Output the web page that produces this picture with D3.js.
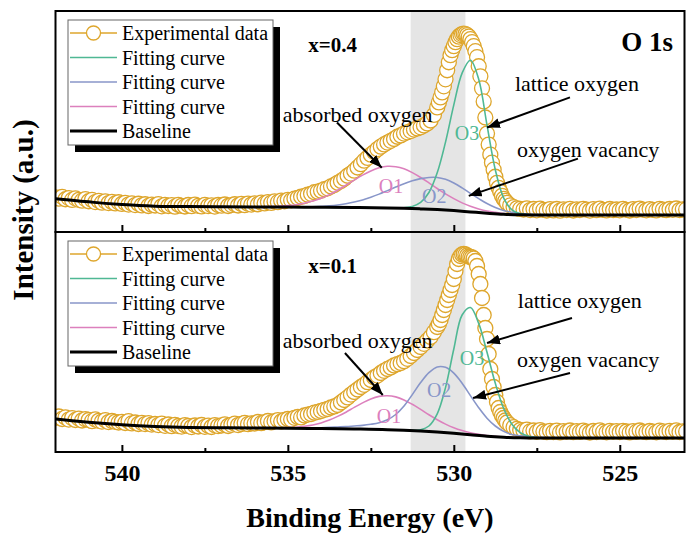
<!DOCTYPE html>
<html>
<head>
<meta charset="utf-8">
<title>O 1s XPS</title>
<script src="https://d3js.org/d3.v7.min.js"></script>
<style>
  body { margin: 0; background: #fff; }
  text { font-family: "Liberation Serif", "Times New Roman", serif; }
</style>
</head>
<body>
<script>
    var width = 686, height = 536;

    // ---- data (binding energy in eV, intensity in a.u.) ----
    // experimental points: 0.1 eV steps, 0.05 eV steps across the main peak
    function seg(from, to, step) {
        return d3.range(0, Math.round((from - to) / step) + 1).map(function(i) {
            return +(from - i * step).toFixed(2);
        });
    }
    var expEnergy = [].concat(seg(542, 530.5, 0.1), seg(530.45, 528.45, 0.05), seg(528.4, 523, 0.1));

    var exp04 = [
        34.5, 33.2, 35.0, 32.6, 33.8, 31.9, 33.5, 32.0, 31.2, 32.8,
        30.6, 31.9, 29.8, 31.0, 29.2, 30.5, 28.8, 29.9, 28.4, 29.6,
        27.9, 29.0, 27.3, 28.4, 26.8, 28.1, 26.5, 27.6, 25.9, 27.2,
        26.4, 27.8, 25.6, 27.0, 25.9, 26.8, 25.2, 27.1, 26.0, 25.4,
        26.9, 25.7, 27.3, 26.1, 25.5, 27.0, 25.8, 26.6, 25.3, 26.9,
        26.2, 27.4, 25.9, 26.8, 27.6, 26.4, 27.9, 26.7, 28.2, 27.3,
        28.5, 27.6, 29.2, 28.4, 29.8, 29.0, 30.4, 29.7, 31.2, 30.6,
        32.0, 31.5, 33.2, 34.0, 35.1, 35.8, 37.2, 38.0, 39.6, 40.2,
        41.2, 42.6, 43.5, 45.4, 46.8, 49.0, 50.8, 53.1, 56.0, 58.2,
        61.0, 64.2, 67.5, 71.0, 73.8, 77.0, 79.6, 82.5, 85.0, 87.2,
        89.0, 90.8, 92.6, 94.8, 96.2, 98.0, 99.2, 100.5, 102.0, 103.1,
        104.2, 106.0, 108.1, 111.0, 116.5, 124.0,
        129, 134, 139, 145, 152, 161, 169, 176, 181, 185, 189, 192,
        194.5, 196, 197, 197.5, 197, 196, 194.5, 192, 189, 185, 180,
        174, 165, 155, 143, 130, 114, 98, 87, 77, 69, 62, 55, 49, 44, 40, 36, 33, 31,
        29.0, 26.5, 24.8, 23.6,
        23.0, 22.4, 23.5, 21.8, 22.9, 21.6, 23.2, 22.0, 21.4, 22.8,
        21.5, 22.9, 21.2, 22.6, 21.8, 23.0, 21.4, 22.5, 21.9, 23.1,
        22.2, 21.3, 22.8, 21.7, 23.2, 22.0, 21.5, 22.9, 21.8, 22.4,
        21.6, 23.0, 22.1, 21.4, 22.7, 21.9, 23.3, 22.2, 21.6, 22.8,
        22.0, 21.5, 23.1, 22.3, 21.7, 22.9, 22.1, 23.4, 21.8, 22.6,
        22.5
    ];

    var exp01 = [
        34.2, 35.5, 33.0, 34.6, 32.4, 33.9, 32.0, 33.4, 31.5, 32.8,
        32.0, 30.8, 32.6, 31.2, 30.4, 31.8, 29.9, 31.0, 30.2, 29.5,
        30.2, 29.0, 30.8, 28.6, 29.5, 28.0, 29.2, 27.9, 28.8, 27.4,
        28.0, 26.9, 28.4, 26.2, 27.5, 25.8, 27.2, 26.0, 25.4, 26.8,
        26.0, 24.9, 26.5, 25.5, 27.0, 25.2, 26.3, 25.0, 26.8, 25.9,
        26.5, 27.6, 26.0, 27.2, 28.3, 26.9, 28.0, 29.1, 27.8, 28.7,
        28.5, 30.0, 28.8, 29.9, 31.0, 29.6, 30.8, 31.9, 30.5, 32.2,
        33.0, 32.4, 34.2, 35.0, 34.6, 36.5, 37.4, 38.0, 39.3, 40.1,
        41.0, 42.2, 43.0, 44.5, 45.6, 47.0, 49.5, 52.0, 54.6, 57.4,
        60.0, 62.5, 65.0, 67.2, 69.8, 72.0, 74.5, 76.4, 79.0, 81.2,
        83.0, 84.6, 86.5, 87.8, 89.0, 90.8, 93.2, 96.0, 99.0, 102.0,
        105.0, 108.2, 111.5, 115.0, 119.8, 125.0,
        128, 132, 137, 142, 147, 152, 157, 162, 167, 173, 181, 188,
        193, 196, 197.5, 198, 197.5, 196.5, 195.5, 195, 194.5, 193.5, 191,
        186, 178, 168, 154, 137, 124, 113, 98, 83, 73, 65, 57, 50, 44, 40, 36.5, 34, 31.5,
        29.5, 26.8, 24.8, 23.2,
        22.0, 21.2, 22.4, 20.6, 21.5, 20.2, 21.8, 20.5, 19.8, 21.2,
        20.0, 21.4, 19.6, 20.9, 20.2, 21.5, 19.8, 20.8, 20.1, 21.3,
        20.4, 19.5, 21.0, 20.0, 21.6, 20.3, 19.7, 21.1, 20.2, 20.8,
        19.9, 21.2, 20.5, 19.6, 20.9, 20.1, 21.5, 20.4, 19.8, 21.0,
        20.3, 19.7, 21.3, 20.6, 19.9, 21.1, 20.2, 21.6, 20.0, 20.7,
        20.5
    ];

    // fitted components (drawn on top of the baseline), 0.25 eV grid
    var fitEnergy = seg(537, 526, 0.25);

    var fitO1_04 = [25.2, 25.2, 25.1, 25.1, 25.1, 25.2, 25.4, 25.7, 26.3, 27.2, 28.7, 30.8, 33.6, 37.2, 41.6,
        46.5, 51.7, 56.6, 60.8, 63.9, 65.4, 65.0, 62.9, 59.1, 54.3, 48.9, 43.3, 37.9, 33.2, 29.0,
        25.6, 23.0, 20.9, 19.5, 18.4, 17.8, 17.3, 17.2, 17.1, 17.0, 17.0, 17.0, 17.0, 17.0, 17.0];
    var fitO2_04 = [25.2, 25.2, 25.1, 25.1, 25.0, 25.0, 24.9, 24.9, 24.9, 24.9, 25.0, 25.2, 25.6, 26.1, 26.9,
        28.2, 29.8, 31.9, 34.6, 37.7, 41.2, 44.7, 48.1, 51.0, 53.1, 54.3, 54.3, 52.4, 48.8, 43.9,
        38.4, 33.2, 28.3, 24.5, 21.5, 19.7, 18.3, 17.7, 17.3, 17.1, 17.1, 17.0, 17.0, 17.0, 17.0];
    var fitO3_04 = [25.2, 25.2, 25.1, 25.1, 25.0, 25.0, 24.9, 24.9, 24.8, 24.8, 24.7, 24.7, 24.6, 24.6, 24.5,
        24.5, 24.4, 24.3, 24.2, 24.1, 24.0, 23.9, 24.2, 25.4, 29.4, 39.3, 58.9, 89.5, 126.5, 158.2,
        171.0, 152.0, 106.4, 61.9, 34.0, 22.0, 18.1, 17.2, 17.0, 17.0, 17.0, 17.0, 17.0, 17.0, 17.0];

    var fitO1_01 = [24.2, 24.2, 24.1, 24.1, 24.0, 24.0, 24.0, 24.1, 24.4, 24.8, 25.7, 27.0, 29.0, 31.9, 35.6,
        39.8, 44.6, 49.1, 53.1, 55.6, 56.3, 55.1, 52.1, 47.7, 42.6, 37.2, 32.3, 27.9, 24.3, 21.5,
        19.3, 17.7, 16.4, 15.6, 14.9, 14.6, 14.2, 14.1, 14.0, 14.0, 14.0, 14.0, 14.0, 14.0, 14.0];
    var fitO2_01 = [24.2, 24.2, 24.1, 24.1, 24.0, 24.0, 24.0, 24.0, 24.0, 24.0, 24.1, 24.2, 24.3, 24.6, 25.0,
        25.4, 26.0, 26.6, 27.7, 29.3, 32.3, 37.5, 46.0, 57.4, 69.4, 79.4, 85.1, 84.7, 78.8, 68.7,
        56.4, 44.3, 33.8, 26.0, 20.7, 17.4, 16.2, 15.4, 14.8, 14.5, 14.3, 14.2, 14.1, 14.0, 14.0];
    var fitO3_01 = [24.2, 24.2, 24.1, 24.1, 24.0, 24.0, 23.9, 23.9, 23.8, 23.7, 23.7, 23.6, 23.5, 23.4, 23.3,
        23.1, 23.0, 22.8, 22.7, 22.5, 22.3, 22.0, 21.7, 21.6, 22.3, 26.0, 38.1, 64.4, 103.0, 137.0,
        144.5, 128.6, 99.7, 68.7, 43.7, 27.8, 19.4, 15.8, 14.5, 14.1, 14.0, 14.0, 14.0, 14.0, 14.0];

    var baselineEnergy = [542, 541.5, 541, 540.5, 540, 539.5, 539, 538, 537, 536, 535, 534, 533,
        532, 531.5, 531, 530.5, 530, 529.5, 529, 528.5, 528, 527.5, 527, 525, 523];
    var baseline04 = [33, 31.5, 30, 28.5, 27.3, 26.3, 25.7, 25.3, 25.2, 25, 24.8, 24.6, 24.4,
        24, 23.6, 23, 22.3, 21.3, 20, 18.7, 17.6, 17.1, 17, 17, 17, 17];
    var baseline01 = [33, 31.3, 29.8, 28.5, 27.3, 26.3, 25.5, 24.5, 24.2, 24, 23.8, 23.5, 23,
        22.3, 21.7, 21, 20, 18.8, 17.3, 15.8, 14.8, 14.2, 14, 14, 14, 14];

    var majorTicks = [540, 535, 530, 525];
    var minorTicks = [537.5, 532.5, 527.5];
    var band = [531.3, 529.65];

    var legendLabels = ["Experimental data", "Fitting curve", "Fitting curve", "Fitting curve", "Baseline"];

    // annotations in data units: [text, energy, intensity]
    var notes04 = [["lattice oxygen", 528.16, 140], ["oxygen vacancy", 528.1, 75], ["absorbed oxygen", 535.15, 110]];
    var arrows04 = [[526.5, 134, 529.0, 104], [526.26, 73, 529.55, 36], [533.52, 109, 532.17, 64]];
    var peaks04 = [["O1", 532.26, 39], ["O2", 530.96, 29], ["O3", 529.97, 92]];
    var notes01 = [["lattice oxygen", 528.07, 144], ["oxygen vacancy", 528.1, 85], ["absorbed oxygen", 535.15, 104]];
    var arrows01 = [[526.44, 134, 529.0, 109], [526.5, 79, 529.42, 54], [533.28, 99, 532.14, 57]];
    var peaks01 = [["O1", 532.32, 29], ["O2", 530.81, 55], ["O3", 529.82, 87]];

    // ---- drawing ----
    var gold = "#dea62c", teal = "#4fb894", blue = "#8896c9", pink = "#dc80bd";
    var fitColors = [pink, blue, teal];

    var svg = d3.select("body").append("svg")
        .attr("width", width)
        .attr("height", height);

    var defs = svg.append("defs");
    defs.append("marker")
        .attr("id", "arrow")
        .attr("viewBox", "0 0 13 10")
        .attr("refX", 13).attr("refY", 5)
        .attr("markerWidth", 13).attr("markerHeight", 10)
        .attr("markerUnits", "userSpaceOnUse")
        .attr("orient", "auto")
        .append("path").attr("d", "M0,0 L13,5 L0,10 Z").attr("fill", "#000");

    var left = 55.5, right = 684.5;
    var x = d3.scaleLinear().domain([542, 523.05]).range([left, right]);

    var panels = [
        { top: 11, bottom: 232, exp: exp04, base: baseline04, fits: [fitO1_04, fitO2_04, fitO3_04],
          name: "x=0.4", notes: notes04, arrows: arrows04, peaks: peaks04, labels: false },
        { top: 232, bottom: 452, exp: exp01, base: baseline01, fits: [fitO1_01, fitO2_01, fitO3_01],
          name: "x=0.1", notes: notes01, arrows: arrows01, peaks: peaks01, labels: true }
    ];

    // grey band behind both panels
    svg.append("rect")
        .attr("x", x(band[0])).attr("y", 11)
        .attr("width", x(band[1]) - x(band[0])).attr("height", 452 - 11)
        .attr("fill", "#e5e5e5");

    panels.forEach(function(p, k) {
        var y = d3.scaleLinear().domain([0, 220]).range([p.bottom, p.top]);

        defs.append("clipPath").attr("id", "clip" + k)
            .append("rect").attr("x", left).attr("y", p.top)
            .attr("width", right - left).attr("height", p.bottom - p.top);

        var g = svg.append("g").attr("clip-path", "url(#clip" + k + ")");

        g.selectAll("circle")
            .data(expEnergy.map(function(e, i) { return [e, p.exp[i]]; }))
            .enter().append("circle")
            .attr("cx", function(d) { return x(d[0]); })
            .attr("cy", function(d) { return y(d[1]); })
            .attr("r", 7.5)
            .attr("fill", "#fff")
            .attr("stroke", gold)
            .attr("stroke-width", 1.3);

        var fitLine = d3.line()
            .x(function(d) { return x(d[0]); })
            .y(function(d) { return y(d[1]); })
            .curve(d3.curveCatmullRom.alpha(0.5));

        p.fits.forEach(function(vals, j) {
            g.append("path")
                .attr("d", fitLine(fitEnergy.map(function(e, i) { return [e, vals[i]]; })))
                .attr("fill", "none")
                .attr("stroke", fitColors[j])
                .attr("stroke-width", 1.6);
        });

        var baseLine = d3.line()
            .x(function(d) { return x(d[0]); })
            .y(function(d) { return y(d[1]); })
            .curve(d3.curveMonotoneX);
        g.append("path")
            .attr("d", baseLine(baselineEnergy.map(function(e, i) { return [e, p.base[i]]; })))
            .attr("fill", "none")
            .attr("stroke", "#000")
            .attr("stroke-width", 3);

        // peak labels and annotations
        p.peaks.forEach(function(d, j) {
            svg.append("text")
                .attr("x", x(d[1])).attr("y", y(d[2]))
                .attr("font-size", 20)
                .attr("fill", fitColors[j])
                .text(d[0]);
        });
        p.notes.forEach(function(d) {
            svg.append("text")
                .attr("x", x(d[1])).attr("y", y(d[2]))
                .attr("font-size", 22)
                .attr("fill", "#000")
                .text(d[0]);
        });
        p.arrows.forEach(function(a) {
            svg.append("line")
                .attr("x1", x(a[0])).attr("y1", y(a[1]))
                .attr("x2", x(a[2])).attr("y2", y(a[3]))
                .attr("stroke", "#000")
                .attr("stroke-width", 2)
                .attr("marker-end", "url(#arrow)");
        });

        svg.append("text")
            .attr("x", 357).attr("y", p.top + 41)
            .attr("text-anchor", "end")
            .attr("font-size", 21)
            .attr("font-weight", "bold")
            .text(p.name);

        if (k === 0) {
            svg.append("text")
                .attr("x", 673).attr("y", p.top + 40)
                .attr("text-anchor", "end")
                .attr("font-size", 27)
                .attr("font-weight", "bold")
                .text("O 1s");
        }

        // ticks on the bottom edge of each panel, pointing inwards
        var axisMajor = d3.axisBottom(x).tickValues(majorTicks)
            .tickSizeInner(-7).tickSizeOuter(0).tickPadding(12)
            .tickFormat(p.labels ? d3.format("d") : "");
        var ga = svg.append("g").attr("transform", "translate(0," + p.bottom + ")").call(axisMajor);
        ga.select(".domain").remove();
        ga.selectAll("line").attr("stroke-width", 2);
        ga.selectAll("text")
            .attr("font-family", "Liberation Serif, Times New Roman, serif")
            .attr("font-size", 24)
            .attr("font-weight", "bold")
            .attr("fill", "#000");

        var axisMinor = d3.axisBottom(x).tickValues(minorTicks)
            .tickSizeInner(-4).tickSizeOuter(0).tickFormat("");
        var gm = svg.append("g").attr("transform", "translate(0," + p.bottom + ")").call(axisMinor);
        gm.select(".domain").remove();
        gm.selectAll("line").attr("stroke-width", 2);

        // frame
        svg.append("rect")
            .attr("x", left).attr("y", p.top)
            .attr("width", right - left).attr("height", p.bottom - p.top)
            .attr("fill", "none")
            .attr("stroke", "#000")
            .attr("stroke-width", 2);

        // legend with drop shadow
        var lg = svg.append("g").attr("transform", "translate(0," + p.top + ")");
        lg.append("rect").attr("x", 75).attr("y", 16).attr("width", 205).attr("height", 125).attr("fill", "#000");
        lg.append("rect").attr("x", 68).attr("y", 9).attr("width", 205).attr("height", 125)
            .attr("fill", "#fff").attr("stroke", "#666").attr("stroke-width", 1);

        var rowY = [22, 46.5, 71, 95.5, 120];
        var rowColor = [gold, teal, blue, pink, "#000"];
        legendLabels.forEach(function(label, i) {
            lg.append("line")
                .attr("x1", 70).attr("x2", 117)
                .attr("y1", rowY[i]).attr("y2", rowY[i])
                .attr("stroke", rowColor[i])
                .attr("stroke-width", i === 4 ? 3 : 1.6);
            if (i === 0) {
                lg.append("circle").attr("cx", 93.5).attr("cy", rowY[i]).attr("r", 7)
                    .attr("fill", "#fff").attr("stroke", gold).attr("stroke-width", 1.3);
            }
            lg.append("text")
                .attr("x", 122).attr("y", rowY[i] + 7)
                .attr("font-size", 20)
                .text(label);
        });
    });

    // axis titles
    svg.append("text")
        .attr("x", (left + right) / 2).attr("y", 527)
        .attr("text-anchor", "middle")
        .attr("font-size", 28)
        .attr("font-weight", "bold")
        .text("Binding Energy (eV)");

    svg.append("text")
        .attr("transform", "translate(33,210) rotate(-90)")
        .attr("text-anchor", "middle")
        .attr("font-size", 29)
        .attr("font-weight", "bold")
        .text("Intensity (a.u.)");
</script>
</body>
</html>
